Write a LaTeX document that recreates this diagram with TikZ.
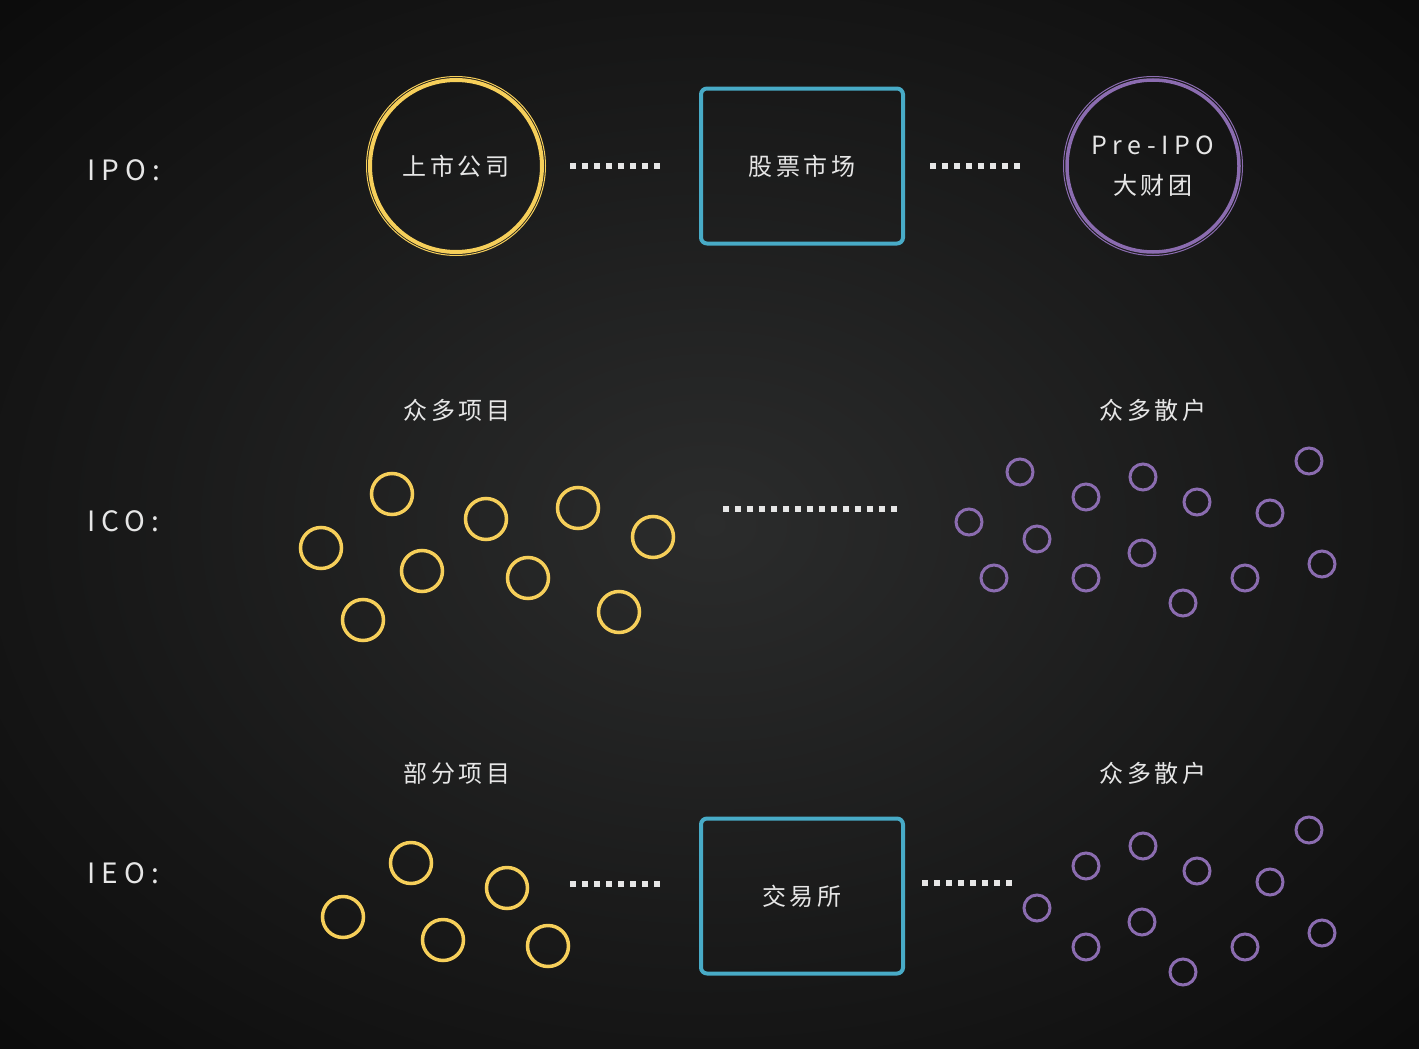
\documentclass[tikz,border=0pt]{standalone}
\usepackage{fontspec}
\newfontfamily\cjk[LetterSpace=16]{Noto Sans CJK SC}
\newfontfamily\latn[LetterSpace=22]{Noto Sans CJK SC}

\definecolor{coinyellow}{HTML}{F6CF5A}
\definecolor{marketblue}{HTML}{48ABC7}
\definecolor{holderpurple}{HTML}{8B6CB0}
\definecolor{inktext}{HTML}{E6E6E6}
\definecolor{bgin}{HTML}{2B2C2C}
\definecolor{bgmid}{HTML}{151515}
\definecolor{bgout}{HTML}{0B0B0B}

\pgfdeclareradialshading{bgglow}{\pgfpoint{0bp}{0bp}}{color(0bp)=(bgin); color(25bp)=(bgmid); color(36bp)=(bgout); color(50bp)=(bgout)}

\tikzstyle{rowtag}=[text=inktext, anchor=west, font=\latn\fontsize{28}{32}\selectfont]
\tikzstyle{note}=[text=inktext, font=\cjk\fontsize{24}{28}\selectfont]
\tikzstyle{bigcoin}=[circle, draw=coinyellow, line width=4, minimum size=172, inner sep=0, note]
\tikzstyle{bigholder}=[circle, draw=holderpurple, line width=3.5, minimum size=172, inner sep=0, note, align=center]
\tikzstyle{venue}=[draw=marketblue, line width=4, rounded corners=6, minimum width=202, minimum height=155, note]
\tikzstyle{coin}=[circle, draw=coinyellow, line width=3.5, minimum size=41, inner sep=0]
\tikzstyle{holder}=[circle, draw=holderpurple, line width=3, minimum size=26, inner sep=0]
\tikzstyle{dots}=[draw=inktext, line width=6, dash pattern=on 6 off 6]

\begin{document}
\begin{tikzpicture}[x=1pt, y=-1pt]
      \useasboundingbox (0,0) rectangle (1419,1049);
      \shade[shading=bgglow] (0,0) rectangle (1419,1049);

      % IPO
      \node[rowtag] (ipo) at (84,170) {IPO:};
      \node[bigcoin] (company) at (456,166) {\raisebox{-4pt}{上市公司}};
      \draw[coinyellow, line width=1] (company.center) circle (89.5);
      \node[venue] (market) at (802,166) {股票市场};
      \node[bigholder] (investor) at (1153,166)
        {\raisebox{-3pt}{\latn\fontsize{25}{28}\selectfont Pre-IPO}\\[15pt]大财团};
      \draw[holderpurple, line width=1] (investor.center) circle (89.5);

      \draw[dots, shorten <=26, shorten >=39] (company) -- (market);
      \draw[dots, shorten <=25, shorten >=45] (market) -- (investor);

      % ICO
      \node[rowtag] (ico) at (84,521) {ICO:};
      \node[note] (icoprojects) at (457,410) {众多项目};
      \node[note] (icoholders) at (1153,410) {众多散户};
      \foreach \x/\y [count=\i] in {392/494, 321/548, 486/519, 578/508, 653/537,
                                    422/571, 528/578, 363/620, 619/612}
        \node[coin] (icocoin-\i) at (\x,\y) {};
      \foreach \x/\y [count=\i] in {1020/472, 1143/477, 1309/461, 1086/497, 1197/502,
                                    1270/513, 969/522, 1037/539, 1142/553, 994/578,
                                    1086/578, 1245/578, 1322/564, 1183/603}
        \node[holder] (icoholder-\i) at (\x,\y) {};
      \coordinate (icoA) at (723,509);
      \coordinate (icoB) at (897,509);
      \draw[dots] (icoA) -- (icoB);

      % IEO
      \node[rowtag] (ieo) at (84,873) {IEO:};
      \node[note] (ieoprojects) at (457,773) {部分项目};
      \node[note] (ieoholders) at (1153,773) {众多散户};
      \node[venue] (exchange) at (802,896) {\raisebox{-2pt}{交易所}};
      \foreach \x/\y [count=\i] in {411/863, 507/888, 343/917, 443/940, 548/946}
        \node[coin] (ieocoin-\i) at (\x,\y) {};
      \foreach \x/\y [count=\i] in {1143/846, 1309/830, 1086/866, 1197/871, 1270/882,
                                    1037/908, 1142/922, 1086/947, 1245/947, 1322/933, 1183/972}
        \node[holder] (ieoholder-\i) at (\x,\y) {};
      \coordinate (ieoA) at (570,884);
      \coordinate (ieoB) at (1012,883);
      \draw[dots, shorten >=39] (ieoA) -- (ieoA -| exchange.west);
      \draw[dots, shorten <=17] (exchange.east |- ieoB) -- (ieoB);
    \end{tikzpicture}
\end{document}
